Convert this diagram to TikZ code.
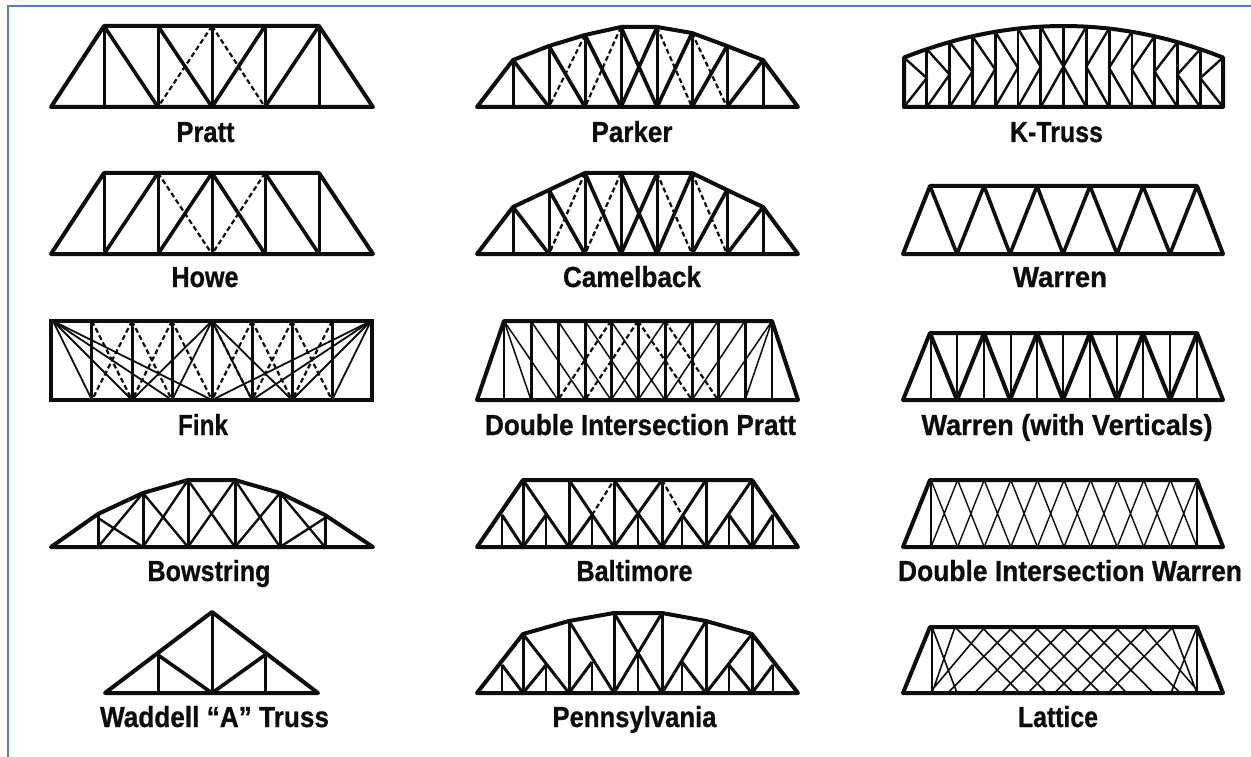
\documentclass[tikz,border=0pt]{standalone}
\usepackage{graphicx}
\usepackage{fontspec}
\setmainfont{Liberation Sans}[BoldFeatures={FakeBold=0.8}]
\definecolor{inkk}{HTML}{0C0C0C}
\definecolor{frameblue}{HTML}{4F81C8}
\tikzset{
 chord/.style={draw=inkk,line width=4pt,line cap=round,line join=round},
 post/.style={draw=inkk,line width=3pt},
 brace/.style={draw=inkk,line width=3.6pt},
 mid/.style={draw=inkk,line width=2.4pt},
 dashline/.style={draw=inkk,line width=2.2pt,dash pattern=on 5pt off 3pt},
 thinline/.style={draw=inkk,line width=1.3pt},
 lab/.style={anchor=base,inner sep=0pt,outer sep=0pt,text=inkk,font=\fontsize{29}{29}\selectfont\bfseries},
}
\newcommand{\trusslabel}[5]{\node[lab] (#1) at (#2,#3) {\sbox0{#5}\pgfmathsetmacro{\xs}{#4/\the\wd0}\scalebox{\xs}[1]{\usebox0}};}
% web shared by Parker and Camelback, from named coordinates
\newcommand{\parkerweb}{
 \foreach \i in {1,...,8} \draw[post] (T\i) -- (B\i);
 \draw[brace] (T1)--(B2) (T2)--(B3) (T3)--(B4) (T4)--(B5) (T5)--(B4) (T6)--(B5) (T7)--(B6) (T8)--(B7);
 \draw[dashline] (T3)--(B2) (T4)--(B3) (T5)--(B6) (T6)--(B7);
}
\begin{document}
\begin{tikzpicture}[x=1pt,y=-1pt]
\useasboundingbox (0,0) rectangle (1251,757);
\fill[white] (0,0) rectangle (1251,757);
\draw[frameblue,line width=2pt] (7.5,757) -- (7.5,6) -- (1251,6);

%% ---------- Pratt
\foreach \x in {104,158,212,265,319} \draw[post] (\x,26) -- (\x,107);
\draw[brace] (104,26)--(158,107) (158,26)--(212,107) (265,26)--(212,107) (319,26)--(265,107);
\draw[dashline] (212,26)--(158,107) (212,26)--(265,107);
\draw[chord] (51,107)--(104,26)--(319,26)--(373,107)--cycle;
\trusslabel{pratt}{205.5}{142}{58}{Pratt}

%% ---------- Howe
\foreach \x in {104,158,212,265,319} \draw[post] (\x,173) -- (\x,254);
\draw[brace] (104,254)--(158,173) (158,254)--(212,173) (212,173)--(265,254) (265,173)--(319,254);
\draw[dashline] (158,173)--(212,254) (265,173)--(212,254);
\draw[chord] (51,254)--(104,173)--(319,173)--(373,254)--cycle;
\trusslabel{howe}{205}{287}{67}{Howe}

%% ---------- Fink
\foreach \x in {91.5,132,172,212,252,292,332} \draw[post] (\x,321) -- (\x,400);
\foreach \x in {92,132,172,212} \draw[mid,line width=1.8pt] (53,321) -- (\x,400);
\foreach \x in {212,252,292,332} \draw[mid,line width=1.8pt] (371,321) -- (\x,400);
\foreach \x in {132,172,252,292} \draw[mid,line width=1.8pt] (212,321) -- (\x,400);
\draw[dashline] (92,321)--(132,400) (132,321)--(92,400)
 (132,321)--(172,400) (172,321)--(132,400)
 (172,321)--(212,400) (212,321)--(252,400)
 (252,321)--(212,400) (252,321)--(292,400) (292,321)--(252,400)
 (292,321)--(332,400) (332,321)--(292,400);
\draw[chord,line cap=butt,line join=miter] (51,321) rectangle (372,400);
\trusslabel{fink}{203}{435}{50}{Fink}

%% ---------- Bowstring
\coordinate (a1) at (98,514); \coordinate (a2) at (143,493); \coordinate (a3) at (188,480);
\coordinate (a4) at (235,480); \coordinate (a5) at (280,493); \coordinate (a6) at (325,515);
\foreach \i/\x in {1/98,2/143,3/188,4/235,5/280,6/325} \draw[post] (a\i) -- (\x,547);
\draw[mid] (98,518)--(143,547) (98,547)--(143,493) (143,493)--(188,547) (143,547)--(188,480)
 (188,480)--(235,547) (188,547)--(235,480) (235,480)--(280,547) (235,547)--(280,493)
 (280,493)--(325,547) (280,547)--(325,518);
\draw[chord] (51,547)--(a1)--(a2)--(a3)--(a4)--(a5)--(a6)--(373,547)--cycle;
\trusslabel{bow}{209}{581}{123}{Bowstring}

%% ---------- Waddell
\foreach \x/\y in {158/655,212/612,265/655} \draw[post] (\x,\y) -- (\x,693);
\draw[brace] (158,655)--(212,693)--(265,655);
\draw[chord] (105,693)--(212,612)--(318,693)--cycle;
\trusslabel{waddell}{214.5}{727}{229}{Waddell “A” Truss}

%% ---------- Parker
\foreach \i/\x in {0/477,1/513,2/549,3/585,4/621,5/657,6/692,7/727,8/763,9/798} \coordinate (B\i) at (\x,107);
\coordinate (T1) at (513,60); \coordinate (T2) at (549,46); \coordinate (T3) at (585,35); \coordinate (T4) at (621,27);
\coordinate (T5) at (657,27); \coordinate (T6) at (692,33); \coordinate (T7) at (727,46); \coordinate (T8) at (763,60);
\parkerweb
\draw[chord] (B0)--(T1)--(T2)--(T3)--(T4)--(T5)--(T6)--(T7)--(T8)--(B9)--cycle;
\trusslabel{parker}{632}{142}{81}{Parker}

%% ---------- Camelback
\foreach \i/\x in {0/477,1/513,2/549,3/585,4/621,5/657,6/692,7/727,8/763,9/798} \coordinate (B\i) at (\x,254);
\coordinate (T1) at (513,207); \coordinate (T2) at (549,190); \coordinate (T3) at (585,173); \coordinate (T4) at (621,173);
\coordinate (T5) at (657,173); \coordinate (T6) at (692,173); \coordinate (T7) at (727,190); \coordinate (T8) at (763,207);
\parkerweb
\draw[chord] (B0)--(T1)--(T2)--(T3)--(T6)--(T7)--(T8)--(B9)--cycle;
\trusslabel{camel}{632}{287}{138}{Camelback}

%% ---------- Double Intersection Pratt
\draw[thinline] (504,321)--(504,400) (772,321)--(772,400);
\foreach \x in {531,558,585,611,638,665,692,718,745} \draw[post] (\x,321) -- (\x,400);
\draw[thinline,line width=1.5pt] (504,321)--(531,400) (504,321)--(558,400) (531,321)--(585,400) (558,321)--(611,400) (585,321)--(638,400) (611,321)--(665,400)
 (772,321)--(745,400) (772,321)--(718,400) (745,321)--(692,400) (718,321)--(665,400) (692,321)--(638,400) (665,321)--(611,400);
\draw[dashline] (611,321)--(558,400) (638,321)--(585,400) (638,321)--(692,400) (665,321)--(718,400);
\draw[chord] (477,400)--(504,321)--(772,321)--(798,400)--cycle;
\trusslabel{dip}{640.5}{435}{311}{Double Intersection Pratt}

%% ---------- Baltimore
\foreach \x in {523,569,614,662,706,752} \draw[post] (\x,480) -- (\x,547);
\foreach \x in {502,546,592,638,682,729,773} \draw[thinline,line width=1.8pt] (\x,515) -- (\x,547);
\draw[brace,line width=3pt] (523,480)--(569,547) (569,480)--(614,547) (569,547)--(592,515) (614,480)--(662,547) (662,480)--(614,547)
 (682,515)--(706,547) (706,480)--(662,547) (752,480)--(706,547)
 (502,515)--(523,547)--(546,515) (729,515)--(752,547)--(773,515);
\draw[dashline] (592,515)--(614,480) (662,480)--(682,515);
\draw[chord] (477,547)--(523,480)--(752,480)--(798,547)--cycle;
\trusslabel{balt}{634.5}{581}{116}{Baltimore}

%% ---------- Pennsylvania
\coordinate (p1) at (523,634); \coordinate (p2) at (569,621); \coordinate (p3) at (614,613);
\coordinate (p4) at (662,613); \coordinate (p5) at (706,621); \coordinate (p6) at (752,634);
\foreach \i/\x in {1/523,2/569,3/614,4/662,5/706,6/752} \draw[post] (p\i) -- (\x,693);
\foreach \x/\y in {502/665,546/665,592/662,638/655,682/662,729/665,773/665} \draw[thinline,line width=1.8pt] (\x,\y) -- (\x,693);
\draw[brace,line width=3pt] (p1)--(569,693) (p2)--(614,693) (569,693)--(592,662) (p3)--(662,693) (p4)--(614,693)
 (682,662)--(706,693) (p5)--(662,693) (p6)--(706,693)
 (502,665)--(523,693)--(546,665) (729,665)--(752,693)--(773,665);
\draw[chord] (477,693)--(p1)--(p2)--(p3)--(p4)--(p5)--(p6)--(798,693)--cycle;
\trusslabel{penn}{634.5}{727}{164}{Pennsylvania}

%% ---------- K-Truss
\foreach \i in {0,...,14}{
 \pgfmathsetmacro{\xa}{904+22.79*\i}
 \pgfmathsetmacro{\ya}{26+12.4*((\xa-1063.5)/100)^2}
 \draw[post,line width=2.8pt] (\xa,\ya) -- (\xa,107);
}
\foreach \i in {0,...,6}{
 \pgfmathsetmacro{\xa}{904+22.79*\i}
 \pgfmathsetmacro{\ya}{26+12.4*((\xa-1063.5)/100)^2}
 \pgfmathsetmacro{\xb}{\xa+22.79}
 \pgfmathsetmacro{\yb}{26+12.4*((\xb-1063.5)/100)^2}
 \pgfmathsetmacro{\ym}{(\yb+107)/2}
 \draw[mid] (\xa,\ya) -- (\xb,\ym) -- (\xa,107);
 \pgfmathsetmacro{\xc}{2127-\xa}
 \pgfmathsetmacro{\xd}{2127-\xb}
 \draw[mid] (\xc,\ya) -- (\xd,\ym) -- (\xc,107);
}
\draw[chord] plot[domain=904:1223,samples=31] (\x,{26+12.4*((\x-1063.5)/100)^2}) -- (1223,107) -- (904,107) -- cycle;
\trusslabel{ktruss}{1056.5}{142}{93}{K-Truss}

%% ---------- Warren
\draw[brace] (957,254)--(930,186) (957,254)--(984,186) (1010,254)--(984,186) (1010,254)--(1037,186) (1063,254)--(1037,186)
 (1063,254)--(1090,186) (1117,254)--(1090,186) (1117,254)--(1143,186) (1170,254)--(1143,186) (1170,254)--(1197,186);
\draw[chord] (903,254)--(930,186)--(1197,186)--(1223,254)--cycle;
\trusslabel{warren}{1060}{287}{94}{Warren}

%% ---------- Warren with verticals
\foreach \x in {931,957,984,1011,1037,1063,1090,1117,1143,1170,1197} \draw[thinline] (\x,333) -- (\x,400);
\draw[brace,line width=4pt] (957,400)--(930,333) (957,400)--(984,333) (1010,400)--(984,333) (1010,400)--(1037,333) (1063,400)--(1037,333)
 (1063,400)--(1090,333) (1117,400)--(1090,333) (1117,400)--(1143,333) (1170,400)--(1143,333) (1170,400)--(1197,333);
\draw[chord] (903,400)--(930,333)--(1197,333)--(1223,400)--cycle;
\trusslabel{warrenv}{1067}{435}{291}{Warren (with Verticals)}

%% ---------- Double Intersection Warren
\draw[thinline] (931,480)--(931,547) (1197,480)--(1197,547);
\foreach \i in {0,...,9}{
 \pgfmathsetmacro{\xa}{931+26.6*\i}
 \pgfmathsetmacro{\xb}{\xa+26.6}
 \draw[thinline,line width=1.4pt] (\xa,480)--(\xb,547) (\xb,480)--(\xa,547);
}
\draw[chord] (903,547)--(930,480)--(1197,480)--(1223,547)--cycle;
\trusslabel{diw}{1070}{581}{344}{Double Intersection Warren}

%% ---------- Lattice
\draw[thinline] (932,627)--(932,693) (1197,627)--(1197,693);
\foreach \i in {0,...,6}{
 \pgfmathsetmacro{\xa}{955+26.7*\i}
 \pgfmathsetmacro{\xb}{\xa+65}
 \pgfmathsetmacro{\xc}{2128-\xa}
 \pgfmathsetmacro{\xd}{2128-\xb}
 \draw[thinline,line width=1.6pt] (\xa,627)--(\xb,693) (\xc,627)--(\xd,693);
}
\draw[thinline,line width=1.6pt] (932,627)--(957,693) (1197,627)--(1171,693) (1143,627)--(1197,690) (985,627)--(932,690) (955,627)--(932,693) (1172,627)--(1197,693);
\draw[chord] (903,693)--(930,627)--(1197,627)--(1223,693)--cycle;
\trusslabel{lattice}{1058}{727}{80}{Lattice}
\end{tikzpicture}
\end{document}
